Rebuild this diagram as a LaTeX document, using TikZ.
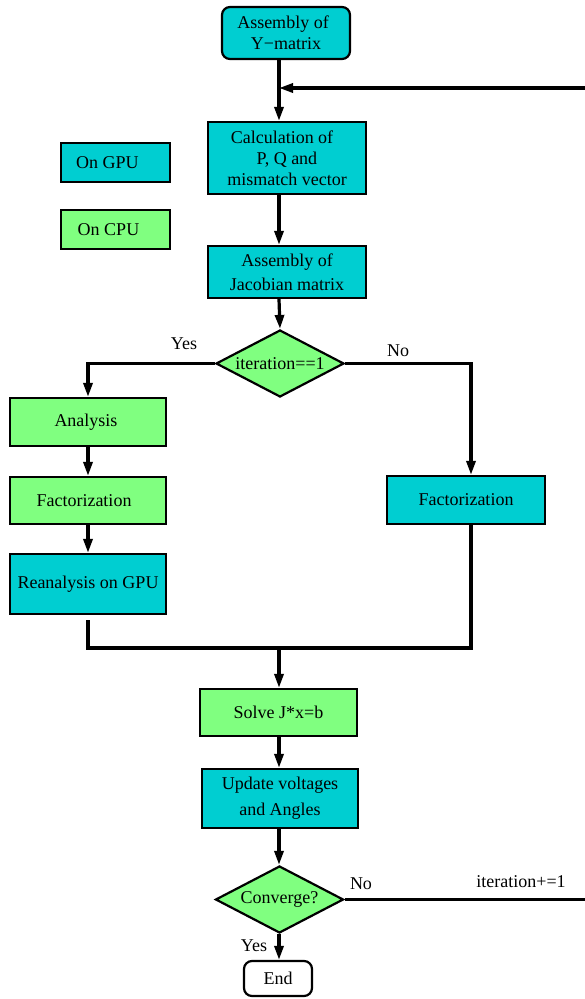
\documentclass[tikz,border=0pt]{standalone}
\usepackage{fontspec}
\setmainfont{Liberation Serif}
\usetikzlibrary{shapes.geometric,arrows.meta}
\definecolor{gpucol}{RGB}{0,206,209}
\definecolor{cpucol}{RGB}{128,255,128}
\begin{document}
\begin{tikzpicture}[x=1pt,y=-1pt,
  font=\fontsize{18}{21}\selectfont,
  box/.style={draw=black,line width=2.2pt,inner sep=0pt,align=center},
  gpubox/.style={box,fill=gpucol},
  cpubox/.style={box,fill=cpucol},
  decision/.style={box,shape=diamond,fill=cpucol,minimum width=128pt,minimum height=67pt},
  line/.style={line width=3.2pt},
  conn/.style={line,-{Triangle[length=14pt,width=9pt]}},
  lab/.style={inner sep=0pt}]
\useasboundingbox (0,0) rectangle (585,999);
\coordinate (sp) at (279,0);
\coordinate (rx) at (471,0);
\coordinate (fbr) at (585,88);
\coordinate (mL) at (88,648);
\coordinate (mR) at (471,648);
\coordinate (mC) at (279,648);

\node[gpubox,rounded corners=8pt,minimum width=128pt,minimum height=52pt] (ymat) at (286,33) {Assembly of\hspace*{6pt}\\Y\char"2212 matrix};
\node[gpubox,minimum width=158pt,minimum height=72pt] (calc) at (287,158) {Calculation of\hspace*{10pt}\\P, Q and\\mismatch vector};
\node[gpubox,minimum width=109pt,minimum height=39pt] (gpu) at (115.5,162.5) {On GPU\hspace*{16pt}};
\node[cpubox,minimum width=109pt,minimum height=39pt] (cpu) at (115.5,229.5) {On CPU\hspace*{14pt}};
\node[gpubox,minimum width=158pt,minimum height=52pt] (jac) at (287,272) {Assembly of\\[3pt]Jacobian matrix};
\node[decision] (it1) at (280,363.5) {};
\node[lab] (it1t) at (it1.center) {iteration==1};
\node[cpubox,minimum width=156pt,minimum height=48pt] (ana) at (88,422) {Analysis\hspace*{4pt}};
\node[cpubox,minimum width=156pt,minimum height=47pt] (fac1) at (88,500.5) {Factorization\hspace*{8pt}};
\node[gpubox,minimum width=156pt,minimum height=60pt] (rean) at (88,584) {Reanalysis on GPU};
\node[gpubox,minimum width=158pt,minimum height=48pt] (fac2) at (466,500) {Factorization};
\node[cpubox,minimum width=157pt,minimum height=47pt] (solve) at (278.5,712.5) {Solve J*x=b};
\node[gpubox,minimum width=156pt,minimum height=59pt] (upd) at (280,798.5) {Update voltages\\[5pt]and Angles};
\node[decision] (conv) at (279.5,899.5) {};
\node[lab] (convt) at (conv.center) {Converge?};
\node[box,fill=white,rounded corners=8pt,minimum width=68pt,minimum height=35pt] (endn) at (278,978.5) {End};

\node[lab] (yes1) at (184,344) {Yes};
\node[lab] (no1) at (398,351) {No};
\node[lab] (no2) at (361,884) {No};
\node[lab] (incr) at (521,882) {iteration+=1};
\node[lab] (yes2) at (254,946) {Yes};

\draw[conn] (ymat.south -| sp) -- (calc.north -| sp);
\draw[conn] (fbr) -- (fbr -| sp);
\draw[conn] (calc.south -| sp) -- (jac.north -| sp);
\draw[conn] (jac.south -| sp) -- (it1.north);
\draw[conn] (it1.west) -| (ana.north);
\draw[conn] (ana.south) -- (fac1.north);
\draw[conn] (fac1.south) -- (rean.north);
\draw[conn] (it1.east) -| (fac2.north -| rx);
\draw[line] ([yshift=-5pt]rean.south) -- (mL) -- (mR) -- (fac2.south -| mR);
\draw[conn] (mC) -- (solve.north -| sp);
\draw[conn] (solve.south -| sp) -- (upd.north -| sp);
\draw[conn] (upd.south -| sp) -- (conv.north -| sp);
\draw[line] (conv.east) -- (conv.east -| fbr);
\draw[conn] (conv.south -| sp) -- (endn.north -| sp);
\end{tikzpicture}
\end{document}
